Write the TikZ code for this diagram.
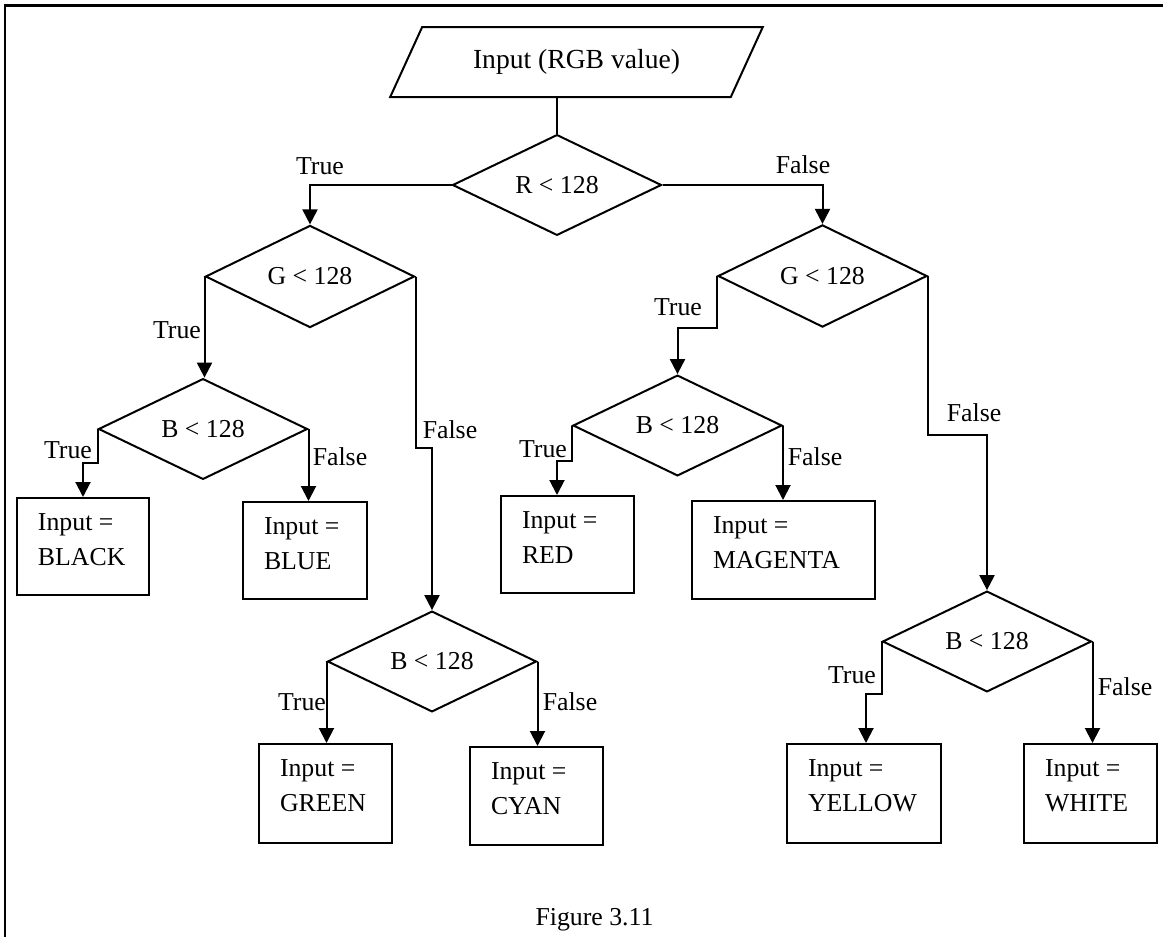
\documentclass[tikz,border=0pt]{standalone}
\usepackage{fontspec}
\setmainfont{Liberation Serif}
\usetikzlibrary{shapes.geometric,arrows.meta,calc}
\begin{document}
\begin{tikzpicture}[x=0.5pt,y=-0.5pt,
  line width=1pt,
  txt/.style={font=\fontsize{12.9}{17.5}\selectfont},
  dia/.style={draw,diamond,inner sep=0pt,minimum width=104.5pt,minimum height=44.5pt,txt},
  outbox/.style={draw,rectangle,anchor=north west,inner sep=0pt},
  boxtext/.style={txt,align=left,anchor=north west,inner sep=0pt},
  lbl/.style={txt,inner sep=0pt},
  flow/.style={-{Triangle[length=7.5pt,width=7.5pt]}},
  frame/.style={line width=1.3pt}
]
\useasboundingbox (0,0) rectangle (1163,937);

% page frame
\draw[frame] (5,937) -- (5,5.5) -- (1163,5.5);

% input
\node[draw,trapezium,trapezium left angle=49.4,trapezium right angle=130.6,
      trapezium stretches,minimum width=186.5pt,minimum height=35pt,inner sep=0pt,
      font=\fontsize{13.8}{16}\selectfont] (inp) at (576.5,62) {Input (RGB value)};

% decisions
\node[dia] (rd) at (557,185) {R < 128};
\node[dia] (gl) at (310,276.5) {G < 128};
\node[dia] (gr) at (822.5,276) {G < 128};
\node[dia] (bl) at (203,429) {B < 128};
\node[dia] (br) at (677.5,425.5) {B < 128};
\node[dia] (bg) at (432,661.5) {B < 128};
\node[dia] (by) at (987,641.5) {B < 128};

% results
\node[outbox,minimum width=66pt,minimum height=48.5pt] (black) at (16,497) {};
\node[outbox,minimum width=62pt,minimum height=48.5pt] (blue) at (242,501) {};
\node[outbox,minimum width=66.5pt,minimum height=48.5pt] (red) at (500,495) {};
\node[outbox,minimum width=91.5pt,minimum height=49pt] (magenta) at (691,500) {};
\node[outbox,minimum width=66.5pt,minimum height=49.5pt] (green) at (258,743) {};
\node[outbox,minimum width=66.5pt,minimum height=49pt] (cyan) at (469,746) {};
\node[outbox,minimum width=77pt,minimum height=49.5pt] (yellow) at (786,743) {};
\node[outbox,minimum width=66.5pt,minimum height=49.5pt] (white) at (1023,743) {};

\node[boxtext] (blackt) at ($(black.north west)+(21,16)$) {Input =\\BLACK};
\node[boxtext] (bluet) at ($(blue.north west)+(21,16)$) {Input =\\BLUE};
\node[boxtext] (redt) at ($(red.north west)+(21,16)$) {Input =\\RED};
\node[boxtext] (magentat) at ($(magenta.north west)+(21,16)$) {Input =\\MAGENTA};
\node[boxtext] (greent) at ($(green.north west)+(21,16)$) {Input =\\GREEN};
\node[boxtext] (cyant) at ($(cyan.north west)+(21,16)$) {Input =\\CYAN};
\node[boxtext] (yellowt) at ($(yellow.north west)+(21,16)$) {Input =\\YELLOW};
\node[boxtext] (whitet) at ($(white.north west)+(21,16)$) {Input =\\WHITE};

% connectors
\draw (rd.north |- inp.south) -- (rd.north);
\draw[flow] (rd.west) -| (gl.north);
\draw[flow] (rd.east) -| (gr.north);
\draw[flow] (gl.west) -- (gl.west |- bl.north);
\draw[flow] (gl.east) -- ++(0,171) -| (bg.north);
\draw[flow] (bl.west) -- ++(0,34) -| (black.north);
\draw[flow] (bl.east) -- (bl.east |- blue.north);
\draw[flow] (gr.west) -- ++(0,52) -| (br.north);
\draw[flow] (gr.east) -- ++(0,159) -| (by.north);
\draw[flow] (br.west) -- ++(0,35) -| ($(red.north west)+(57,0)$);
\draw[flow] (br.east) -- (br.east |- magenta.north);
\draw[flow] (bg.west) -- (bg.west |- green.north);
\draw[flow] (bg.east) -- (bg.east |- cyan.north);
\draw[flow] (by.west) -- ++(0,52) -| ($(yellow.north west)+(80,0)$);
\draw[flow] (by.east) -- (by.east |- white.north);

% branch labels
\node[lbl] (l1) at (320,166) {True};
\node[lbl] (l2) at (803,165) {False};
\node[lbl] (l3) at (177,330) {True};
\node[lbl] (l4) at (450,430) {False};
\node[lbl] (l5) at (68,450) {True};
\node[lbl] (l6) at (340,457) {False};
\node[lbl] (l7) at (678,307) {True};
\node[lbl] (l8) at (974,413) {False};
\node[lbl] (l9) at (543,449) {True};
\node[lbl] (l10) at (815,457) {False};
\node[lbl] (l11) at (302,702) {True};
\node[lbl] (l12) at (570,702) {False};
\node[lbl] (l13) at (852,675) {True};
\node[lbl] (l14) at (1125,687) {False};

% caption
\node[txt,anchor=base,inner sep=0pt] (cap) at (594.5,925) {Figure 3.11};
\end{tikzpicture}
\end{document}
